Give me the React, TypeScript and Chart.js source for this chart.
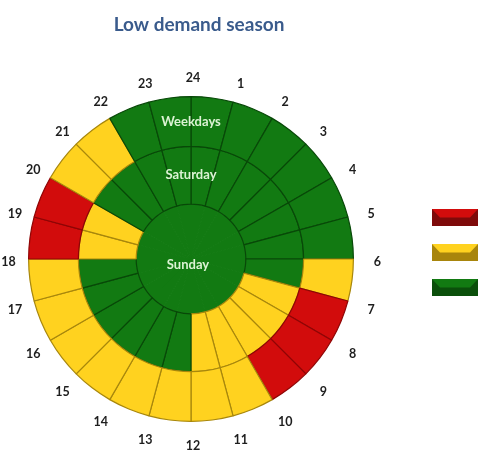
import React, { useEffect, useRef } from "react";
import { Chart, registerables } from "chart.js";

Chart.register(...registerables);

// Hour label placed at the start of each one-hour slice (clockwise from the top)
const hourLabels = ["24", "1", "2", "3", "4", "5", "6", "7", "8", "9", "10", "11", "12", "13", "14", "15", "16", "17", "18", "19", "20", "21", "22", "23"];
// Each slice lasts one hour
const sliceHours = [1, 1, 1, 1, 1, 1, 1, 1, 1, 1, 1, 1, 1, 1, 1, 1, 1, 1, 1, 1, 1, 1, 1, 1];
// Tariff level per hour: R = peak (red), Y = shoulder (yellow), G = off-peak (green)
const weekdaysTariff = ["G", "G", "G", "G", "G", "G", "Y", "R", "R", "R", "Y", "Y", "Y", "Y", "Y", "Y", "Y", "Y", "R", "R", "Y", "Y", "G", "G"];
const saturdayTariff = ["G", "G", "G", "G", "G", "G", "G", "Y", "Y", "Y", "Y", "Y", "G", "G", "G", "G", "G", "G", "Y", "Y", "G", "G", "G", "G"];
const sundayTariff = ["G", "G", "G", "G", "G", "G", "G", "G", "G", "G", "G", "G", "G", "G", "G", "G", "G", "G", "G", "G", "G", "G", "G", "G"];
const ringNames = ["Weekdays", "Saturday", "Sunday"];
const legendLevels = ["R", "Y", "G"];
const titleText = "Low demand season";

const fillColors: Record<string, string> = { R: "#d20c0c", Y: "#ffd21f", G: "#127a12" };
const edgeColors: Record<string, string> = { R: "#8f0505", Y: "#a8870c", G: "#084808" };
const darkColors: Record<string, string> = { R: "#7e0a0a", Y: "#a8850c", G: "#0b4f0b" };

const labelPlugin = {
  id: "ringLabels",
  afterDatasetsDraw(chart: any) {
    const ctx = chart.ctx;
    const meta0 = chart.getDatasetMeta(0);
    if (!meta0.data.length) return;
    const first = meta0.data[0];
    const cx = first.x;
    const cy = first.y;
    ctx.save();
    ctx.textAlign = "center";
    ctx.textBaseline = "middle";
    // hour labels
    ctx.font = "bold 12.5px Lato, 'Open Sans', sans-serif";
    ctx.fillStyle = "#1e1e1e";
    meta0.data.forEach((arc: any, i: number) => {
      const r = arc.outerRadius + 22;
      ctx.fillText(hourLabels[i], cx + 2 + r * Math.cos(arc.startAngle), cy + 3 + r * Math.sin(arc.startAngle));
    });
    // ring names
    ctx.font = "bold 13px Lato, 'Open Sans', sans-serif";
    ctx.fillStyle = "#dcf3d4";
    ringNames.forEach((name, di) => {
      const m = chart.getDatasetMeta(di);
      const a = m.data[0];
      const isCenter = di === ringNames.length - 1;
      const mid = isCenter ? 0 : (a.innerRadius + a.outerRadius) / 2;
      ctx.fillText(name, cx - (isCenter ? 3 : 0), cy - mid + (isCenter ? 6 : 0));
    });
    // title
    ctx.font = "bold 19px Lato, 'Open Sans', sans-serif";
    ctx.fillStyle = "#3a5b8c";
    ctx.fillText(titleText, cx + 8, 25);
    // legend swatches
    const lx = chart.chartArea.right + 78;
    const w = 46;
    const h = 17;
    legendLevels.forEach((lv, i) => {
      const top = cy - 50 + i * 35;
      ctx.fillStyle = darkColors[lv];
      ctx.fillRect(lx, top, w, h);
      ctx.fillStyle = fillColors[lv];
      ctx.beginPath();
      ctx.moveTo(lx, top);
      ctx.lineTo(lx + w, top);
      ctx.lineTo(lx + w - 8, top + h / 2);
      ctx.lineTo(lx + 8, top + h / 2);
      ctx.closePath();
      ctx.fill();
    });
    ctx.restore();
  },
};

export default function App() {
  const ref = useRef<HTMLCanvasElement | null>(null);
  useEffect(() => {
    if (!ref.current) return;
    const chart = new Chart(ref.current, {
      type: "doughnut",
      data: {
        labels: hourLabels,
        datasets: [
          {
            label: ringNames[0],
            data: sliceHours,
            backgroundColor: weekdaysTariff.map((t) => fillColors[t]),
            borderColor: weekdaysTariff.map((t) => edgeColors[t]),
            borderWidth: 1.2,
            weight: 50,
          },
          {
            label: ringNames[1],
            data: sliceHours,
            backgroundColor: saturdayTariff.map((t) => fillColors[t]),
            borderColor: saturdayTariff.map((t) => edgeColors[t]),
            borderWidth: 1.2,
            weight: 58,
          },
          {
            label: ringNames[2],
            data: sliceHours,
            backgroundColor: sundayTariff.map((t) => fillColors[t]),
            borderColor: sundayTariff.map((t) => fillColors[t]),
            borderWidth: 1,
            weight: 55,
          },
        ],
      },
      options: {
        responsive: false,
        animation: false,
        cutout: 0,
        layout: { padding: { left: 28, right: 140, top: 96, bottom: 50 } },
        plugins: {
          legend: { display: false },
          title: { display: false },
          tooltip: { enabled: false },
        },
      },
      plugins: [labelPlugin],
    });
    return () => chart.destroy();
  }, []);
  return (
    <div style={{ position: "absolute", left: 0, top: 0, width: 494, height: 472, background: "#fff" }}>
      <canvas ref={ref} width={494} height={472} style={{ display: "block" }} />
    </div>
  );
}
